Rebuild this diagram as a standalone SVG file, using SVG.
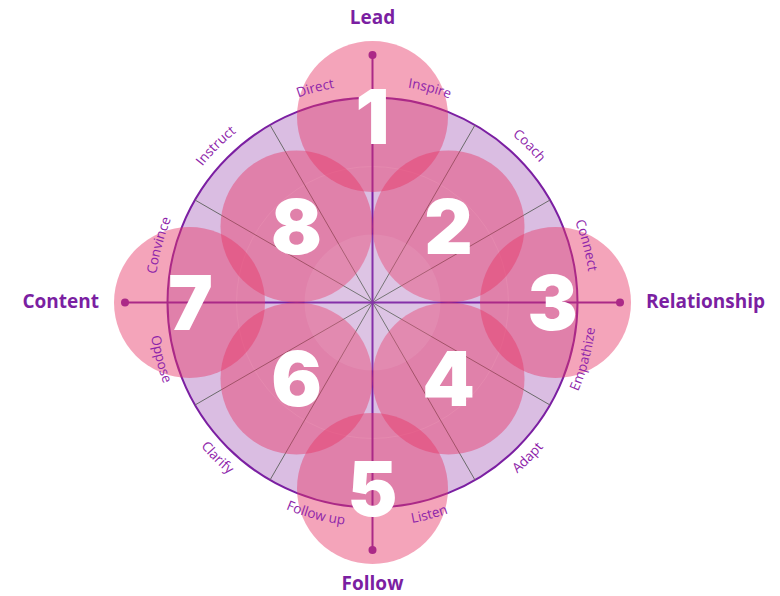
<svg xmlns="http://www.w3.org/2000/svg" xmlns:xlink="http://www.w3.org/1999/xlink" width="780" height="596" viewBox="0 0 780 596">
  <style>
    .pink { fill: #e73566; fill-opacity: 0.45; }
    .num { font-family: Inter, "Liberation Sans", sans-serif; font-weight: 900; font-size: 75px; fill: #ffffff; text-anchor: middle; }
    .lbl { font-family: "Open Sans", "Liberation Sans", sans-serif; font-size: 13.5px; fill: #8e24aa; }
    .title { font-family: "Open Sans", "Liberation Sans", sans-serif; font-weight: 700; font-size: 19px; fill: #7b1fa2; }
    .axis { stroke: #7b1fa2; stroke-width: 2; fill: none; }
    .spoke { stroke: #6a6a6a; stroke-width: 1; fill: none; }
    .dot { fill: #7b1fa2; }
  </style>
  <defs>
    <path id="arcTop" d="M 154.5 302.5 A 218 218 0 0 1 590.5 302.5"/>
    <path id="arcBot" d="M 148.5 302.5 A 224 224 0 0 0 596.5 302.5"/>
  </defs>

  <g id="wheel">
    <circle cx="372.5" cy="302.5" r="205" fill="#dabde2" stroke="#7b1fa2" stroke-width="2"/>
    <circle cx="372.5" cy="302.5" r="136" fill="#ffffff" fill-opacity="0.03" stroke="#ffffff" stroke-opacity="0.25" stroke-width="1"/>
  </g>

  <g id="connectors">
    <path class="spoke" d="M372.5 302.5 L270 125 M372.5 302.5 L475 125 M372.5 302.5 L550 200 M372.5 302.5 L550 405 M372.5 302.5 L475 480 M372.5 302.5 L270 480 M372.5 302.5 L195 405 M372.5 302.5 L195 200"/>
    <path class="axis" d="M125 302.5 L620 302.5 M372.5 55 L372.5 550"/>
    <circle class="dot" cx="372.5" cy="55" r="4"/>
    <circle class="dot" cx="372.5" cy="550" r="4"/>
    <circle class="dot" cx="125" cy="302.5" r="4"/>
    <circle class="dot" cx="620" cy="302.5" r="4"/>
  </g>

  <g id="node-1"><circle class="pink" cx="372.5" cy="116.5" r="75.5"/></g>
  <g id="node-2"><circle class="pink" cx="448.5" cy="226.5" r="76"/></g>
  <g id="node-3"><circle class="pink" cx="555.5" cy="302.5" r="75.5"/></g>
  <g id="node-4"><circle class="pink" cx="448.5" cy="378.5" r="76"/></g>
  <g id="node-5"><circle class="pink" cx="372.5" cy="488.5" r="75.5"/></g>
  <g id="node-6"><circle class="pink" cx="296.5" cy="378.5" r="76"/></g>
  <g id="node-7"><circle class="pink" cx="189.5" cy="302.5" r="75.5"/></g>
  <g id="node-8"><circle class="pink" cx="296.5" cy="226.5" r="76"/></g>

  <g id="center">
    <circle cx="372.5" cy="302.5" r="68" fill="#ffffff" fill-opacity="0.08"/>
  </g>

  <g id="numbers">
    <text class="num" x="372.5" y="143.5">1</text>
    <text class="num" x="448.5" y="253.5">2</text>
    <text class="num" x="552.5" y="329.5">3</text>
    <text class="num" x="448.5" y="405.5">4</text>
    <text class="num" x="372.5" y="515.5">5</text>
    <text class="num" x="296.5" y="405.5">6</text>
    <text class="num" x="190.5" y="329.5">7</text>
    <text class="num" x="296.5" y="253.5">8</text>
  </g>

  <g id="labels">
    <text class="lbl" text-anchor="middle"><textPath xlink:href="#arcTop" href="#arcTop" startOffset="8.333%">Convince</textPath></text>
    <text class="lbl" text-anchor="middle"><textPath xlink:href="#arcTop" href="#arcTop" startOffset="25%">Instruct</textPath></text>
    <text class="lbl" text-anchor="middle"><textPath xlink:href="#arcTop" href="#arcTop" startOffset="41.667%">Direct</textPath></text>
    <text class="lbl" text-anchor="middle"><textPath xlink:href="#arcTop" href="#arcTop" startOffset="58.333%">Inspire</textPath></text>
    <text class="lbl" text-anchor="middle"><textPath xlink:href="#arcTop" href="#arcTop" startOffset="75%">Coach</textPath></text>
    <text class="lbl" text-anchor="middle"><textPath xlink:href="#arcTop" href="#arcTop" startOffset="91.667%">Connect</textPath></text>
    <text class="lbl" text-anchor="middle"><textPath xlink:href="#arcBot" href="#arcBot" startOffset="8.333%">Oppose</textPath></text>
    <text class="lbl" text-anchor="middle"><textPath xlink:href="#arcBot" href="#arcBot" startOffset="25%">Clarify</textPath></text>
    <text class="lbl" text-anchor="middle"><textPath xlink:href="#arcBot" href="#arcBot" startOffset="41.667%">Follow up</textPath></text>
    <text class="lbl" text-anchor="middle"><textPath xlink:href="#arcBot" href="#arcBot" startOffset="58.333%">Listen</textPath></text>
    <text class="lbl" text-anchor="middle"><textPath xlink:href="#arcBot" href="#arcBot" startOffset="75%">Adapt</textPath></text>
    <text class="lbl" text-anchor="middle"><textPath xlink:href="#arcBot" href="#arcBot" startOffset="91.667%">Empathize</textPath></text>
  </g>

  <g id="titles">
    <text class="title" x="372.5" y="24" text-anchor="middle">Lead</text>
    <text class="title" x="372.5" y="590" text-anchor="middle">Follow</text>
    <text class="title" x="99" y="308" text-anchor="end">Content</text>
    <text class="title" x="646" y="308" text-anchor="start">Relationship</text>
  </g>
</svg>
